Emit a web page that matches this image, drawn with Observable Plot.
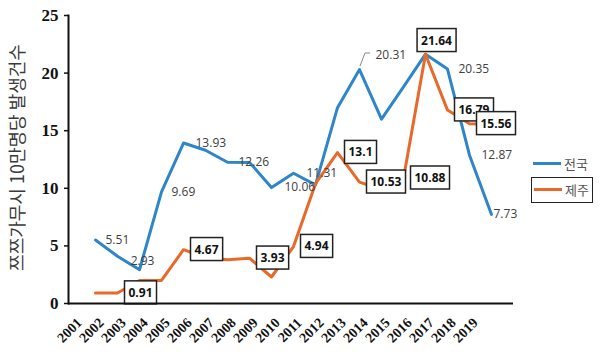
<!DOCTYPE html>
<html><head><meta charset="utf-8">
<script src="https://cdn.jsdelivr.net/npm/d3@7"></script>
<script src="https://cdn.jsdelivr.net/npm/@observablehq/plot@0.6"></script>
<style>
body{margin:0;background:#fff;}
#wrap{position:relative;width:600px;height:356px;overflow:hidden;}
.lg{position:absolute;font:13px 'Noto Sans CJK KR','Noto Sans',sans-serif;color:#555;display:flex;align-items:center;}
.lg .sw{display:inline-block;width:28px;height:3px;margin-right:3px;}
</style></head><body><div id="wrap"></div>
<script>
// ---- data ----
const years = ["2001","2002","2003","2004","2005","2006","2007","2008","2009","2010","2011","2012","2013","2014","2015","2016","2017","2018","2019"];
const nationalRate = [5.51, 4.1, 2.93, 9.69, 13.93, 13.3, 12.26, 12.25, 10.06, 11.31, 10.3, 17.0, 20.31, 16.0, 18.8, 21.64, 20.35, 12.87, 7.73];
const jejuRate = [0.91, 0.91, 2.0, 2.0, 4.67, 4.0, 3.8, 3.93, 2.3, 4.94, 10.4, 13.1, 10.53, 9.9, 10.88, 21.64, 16.79, 15.6, 15.56];
const nationalLabels = ["5.51", null, "2.93", "9.69", "13.93", null, "12.26", null, "10.06", "11.31", null, null, "20.31", null, null, null, "20.35", "12.87", "7.73"];
const jejuLabels = [null, "0.91", null, null, "4.67", null, null, "3.93", null, "4.94", null, "13.1", "10.53", null, "10.88", "21.64", "16.79", "15.56", null];
const seriesNames = ["전국", "제주"];
const seriesColors = ["#2e86c9", "#e8692a"];
const yTicks = [0, 5, 10, 15, 20, 25];
const yTitle = "쯔쯔가무시 10만명당 발생건수";

// ---- table ----
const rows = years.flatMap((yr, i) => [
  {year: yr, series: seriesNames[0], value: nationalRate[i], label: nationalLabels[i]},
  {year: yr, series: seriesNames[1], value: jejuRate[i], label: jejuLabels[i]}
]);

// label placement (style, not data)
const natPlace = {"2003": {dx: 3, dy: -9, anchor: "middle"}, "2013": {dx: 16, dy: -14, anchor: "start"},
  "2001": {dx: 10}, "2004": {dx: 10}, "2005": {dx: 12}, "2007": {dx: 11}, "2009": {dx: 13}, "2010": {dx: 13},
  "2017": {dx: 11}, "2018": {dx: 12}, "2019": {dx: 2}};
const jejuPlace = {"2016": {dx: 11, dy: -13.5, anchor: "middle"}};

const labelMarks = [];
rows.forEach(r => {
  if (!r.label) return;
  const nat = r.series === seriesNames[0];
  const p = (nat ? natPlace : jejuPlace)[r.year] || {};
  labelMarks.push(Plot.text([r], {
    x: "year", y: "value", text: "label",
    dx: p.dx ?? 11, dy: p.dy ?? 0, textAnchor: p.anchor || "start",
    fontSize: 12, fontWeight: nat ? "normal" : "bold",
    fontFamily: "'Open Sans','Noto Sans',sans-serif",
    fill: nat ? "#404040" : "#111",
    className: nat ? "natlbl" : "boxlbl"
  }));
});

const plot = Plot.plot({
  width: 600, height: 356,
  marginLeft: 68, marginRight: 87, marginTop: 15, marginBottom: 53,
  x: {type: "point", domain: years, range: [83, 502]},
  y: {domain: [0, 25]},
  color: {domain: seriesNames, range: seriesColors},
  style: {background: "#fff", overflow: "visible"},
  marks: [
    Plot.axisY({ticks: yTicks, tickSize: 4, tickPadding: 6, fontSize: 17, fontWeight: "bold",
      fontFamily: "'Liberation Serif','Times New Roman',serif", fill: "#111", stroke: "#111", strokeWidth: 1.5, label: null}),
    Plot.axisX({tickSize: 0, tickPadding: 9, tickRotate: -45, fontSize: 14, fontWeight: "bold", dx: -16, dy: 8,
      fontFamily: "'Liberation Serif','Times New Roman',serif", fill: "#111", label: null}),
    Plot.text([yTitle], {frameAnchor: "left", textAnchor: "middle", rotate: -90, dx: -50, dy: -2, fontSize: 18,
      fontFamily: "'Noto Sans CJK KR',sans-serif", fill: "#3a3a3a"}),
    Plot.line(rows, {x: "year", y: "value", stroke: "series", strokeWidth: 3, z: "series"}),
    ...labelMarks,
    Plot.ruleY([0], {stroke: "#111", strokeWidth: 2}),
    Plot.frame({anchor: "left", stroke: "#111", strokeWidth: 2})
  ]
});

const wrap = document.getElementById("wrap");
wrap.appendChild(plot);

// boxes around Jeju labels
d3.select(plot).selectAll(".boxlbl text").each(function () {
  const b = this.getBBox();
  const g = this.parentNode;
  const t = this.getAttribute("transform");
  const rect = document.createElementNS("http://www.w3.org/2000/svg", "rect");
  rect.setAttribute("x", b.x - 4); rect.setAttribute("y", b.y - 3);
  rect.setAttribute("width", b.width + 8); rect.setAttribute("height", b.height + 6);
  rect.setAttribute("fill", "#fff"); rect.setAttribute("stroke", "#222"); rect.setAttribute("stroke-width", 1.5);
  if (t) rect.setAttribute("transform", t);
  g.insertBefore(rect, this);
});

// leader line for the 2013 national label
{
  const sx = plot.scale("x"), sy = plot.scale("y");
  const i = years.indexOf("2013");
  const px = sx.apply(years[i]), py = sy.apply(nationalRate[i]);
  d3.select(plot).append("path")
    .attr("d", `M${px + 1},${py - 3}L${px + 6},${py - 16}L${px + 11},${py - 16}`)
    .attr("fill", "none").attr("stroke", "#888").attr("stroke-width", 1);
}

// legend
const lg1 = document.createElement("div");
lg1.className = "lg"; lg1.style.left = "533px"; lg1.style.top = "154px";
lg1.innerHTML = `<span class="sw" style="background:${seriesColors[0]}"></span>${seriesNames[0]}`;
const lg2 = document.createElement("div");
lg2.className = "lg"; lg2.style.left = "531px"; lg2.style.top = "177px";
lg2.style.border = "1.5px solid #222"; lg2.style.padding = "2px 3px 3px 2px"; lg2.style.background = "#fff";
lg2.innerHTML = `<span class="sw" style="background:${seriesColors[1]}"></span>${seriesNames[1]}`;
wrap.appendChild(lg1); wrap.appendChild(lg2);
</script>
</body></html>
